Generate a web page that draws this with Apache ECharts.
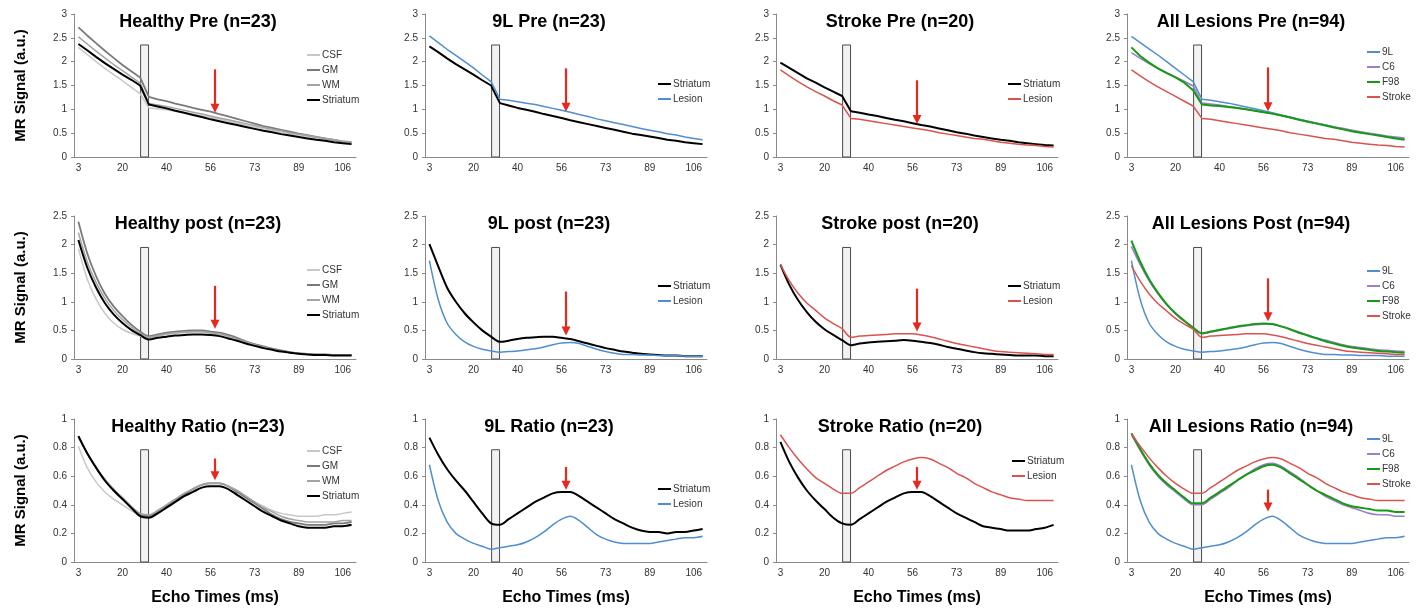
<!DOCTYPE html>
<html><head><meta charset="utf-8">
<script src="https://cdn.jsdelivr.net/npm/echarts@6/dist/echarts.min.js"></script>
<style>html,body{margin:0;padding:0;background:#fff}#c{width:1421px;height:608px}</style>
</head><body><div id="c"></div>
<script>
// ---------- data ----------
const ECHO_TIMES = ['3','6','10','13','16','20','23','26','33','36','40','43','46','50','53','56','59','63','66','69','73','76','79','83','86','89','92','96','99','102','106','109'];

// Row 1: pre-contrast
const HP_CSF = [2.30,2.15,2.00,1.86,1.73,1.60,1.46,1.33,1.03,1.01,0.99,0.96,0.93,0.90,0.86,0.83,0.79,0.75,0.71,0.67,0.63,0.59,0.56,0.52,0.49,0.46,0.43,0.40,0.37,0.35,0.32,0.30];
const HP_GM  = [2.72,2.55,2.39,2.23,2.08,1.93,1.80,1.67,1.26,1.21,1.17,1.12,1.08,1.03,0.99,0.95,0.90,0.85,0.80,0.75,0.70,0.65,0.61,0.57,0.53,0.49,0.46,0.42,0.39,0.36,0.33,0.31];
const HP_WM  = [2.52,2.37,2.22,2.08,1.94,1.81,1.68,1.55,1.12,1.09,1.06,1.02,0.98,0.94,0.90,0.86,0.82,0.78,0.74,0.70,0.66,0.62,0.58,0.55,0.51,0.48,0.45,0.42,0.39,0.36,0.33,0.31];
const HP_STR = [2.37,2.24,2.10,1.97,1.85,1.73,1.62,1.50,1.10,1.06,1.02,0.97,0.93,0.88,0.84,0.79,0.75,0.71,0.67,0.63,0.59,0.55,0.52,0.48,0.45,0.42,0.39,0.36,0.34,0.31,0.29,0.27];
const L9P_STR = [2.32,2.20,2.07,1.95,1.84,1.73,1.61,1.50,1.13,1.08,1.03,0.99,0.95,0.90,0.86,0.82,0.77,0.73,0.69,0.65,0.61,0.57,0.53,0.49,0.46,0.43,0.40,0.36,0.34,0.31,0.29,0.27];
const L9P_LES = [2.54,2.40,2.26,2.13,2.00,1.87,1.72,1.58,1.21,1.19,1.16,1.13,1.10,1.06,1.02,0.98,0.94,0.89,0.85,0.80,0.76,0.72,0.68,0.64,0.60,0.56,0.53,0.49,0.46,0.42,0.39,0.36];
const SP_STR = [1.98,1.87,1.76,1.65,1.56,1.46,1.37,1.28,0.96,0.93,0.89,0.86,0.82,0.78,0.75,0.71,0.67,0.64,0.60,0.56,0.52,0.49,0.45,0.42,0.39,0.36,0.34,0.31,0.29,0.27,0.25,0.24];
const SP_LES = [1.83,1.70,1.58,1.47,1.37,1.28,1.18,1.09,0.81,0.79,0.76,0.73,0.70,0.67,0.64,0.61,0.58,0.55,0.51,0.48,0.45,0.42,0.39,0.37,0.34,0.31,0.29,0.27,0.25,0.24,0.22,0.21];
const AP_9L  = [2.53,2.40,2.27,2.14,2.00,1.86,1.72,1.58,1.21,1.19,1.16,1.13,1.09,1.05,1.01,0.97,0.93,0.88,0.84,0.79,0.75,0.71,0.67,0.63,0.59,0.56,0.52,0.49,0.46,0.43,0.40,0.38];
const AP_C6  = [2.19,2.07,1.96,1.86,1.77,1.68,1.59,1.49,1.13,1.11,1.09,1.06,1.03,1.00,0.97,0.94,0.91,0.87,0.83,0.79,0.75,0.71,0.67,0.63,0.60,0.56,0.53,0.50,0.47,0.44,0.42,0.40];
const AP_F98 = [2.30,2.12,1.98,1.86,1.76,1.67,1.56,1.40,1.10,1.08,1.07,1.05,1.03,1.00,0.97,0.94,0.91,0.87,0.83,0.78,0.74,0.70,0.66,0.62,0.58,0.54,0.51,0.48,0.45,0.42,0.39,0.36];
const AP_STK = [1.83,1.70,1.58,1.47,1.37,1.27,1.17,1.07,0.81,0.79,0.76,0.73,0.70,0.67,0.64,0.61,0.58,0.55,0.51,0.48,0.45,0.42,0.39,0.37,0.34,0.31,0.29,0.27,0.25,0.24,0.22,0.21];

// Row 2: post-contrast
const HO_CSF = [1.93,1.40,1.05,0.80,0.63,0.52,0.45,0.40,0.37,0.40,0.43,0.45,0.46,0.47,0.47,0.45,0.43,0.39,0.34,0.29,0.25,0.21,0.17,0.14,0.12,0.10,0.09,0.08,0.08,0.07,0.07,0.07];
const HO_GM  = [2.40,1.85,1.45,1.14,0.92,0.75,0.60,0.48,0.40,0.43,0.46,0.48,0.49,0.50,0.50,0.48,0.46,0.42,0.37,0.31,0.26,0.22,0.18,0.15,0.12,0.10,0.09,0.08,0.08,0.07,0.07,0.07];
const HO_WM  = [2.21,1.70,1.34,1.06,0.85,0.69,0.56,0.45,0.38,0.41,0.44,0.46,0.47,0.48,0.48,0.46,0.44,0.40,0.35,0.30,0.25,0.21,0.17,0.14,0.12,0.10,0.09,0.08,0.07,0.07,0.07,0.07];
const HO_STR = [2.08,1.60,1.25,0.98,0.78,0.63,0.51,0.42,0.34,0.37,0.39,0.41,0.42,0.43,0.43,0.42,0.40,0.36,0.32,0.27,0.23,0.19,0.16,0.13,0.11,0.09,0.08,0.07,0.07,0.06,0.06,0.06];
const L9O_STR = [2.01,1.62,1.25,1.00,0.80,0.64,0.50,0.39,0.30,0.32,0.35,0.37,0.38,0.39,0.39,0.37,0.35,0.31,0.27,0.23,0.19,0.16,0.13,0.11,0.09,0.08,0.07,0.06,0.06,0.05,0.05,0.05];
const L9O_LES = [1.72,1.04,0.63,0.43,0.30,0.22,0.17,0.14,0.12,0.13,0.14,0.16,0.18,0.21,0.25,0.28,0.29,0.27,0.22,0.17,0.13,0.10,0.08,0.08,0.07,0.07,0.06,0.06,0.06,0.05,0.05,0.05];
const SO_STR = [1.65,1.30,1.03,0.82,0.65,0.52,0.42,0.33,0.24,0.27,0.29,0.30,0.31,0.32,0.33,0.32,0.30,0.28,0.25,0.21,0.18,0.15,0.12,0.10,0.09,0.08,0.07,0.06,0.06,0.06,0.05,0.05];
const SO_LES = [1.65,1.37,1.15,0.98,0.85,0.72,0.62,0.53,0.38,0.40,0.41,0.42,0.43,0.44,0.44,0.44,0.42,0.39,0.35,0.31,0.27,0.24,0.21,0.18,0.15,0.13,0.12,0.11,0.10,0.09,0.08,0.08];
const AO_9L  = [1.72,1.04,0.63,0.43,0.30,0.22,0.17,0.14,0.12,0.13,0.14,0.16,0.18,0.21,0.25,0.28,0.29,0.27,0.22,0.17,0.13,0.10,0.08,0.08,0.07,0.07,0.06,0.06,0.06,0.05,0.05,0.05];
const AO_C6  = [1.97,1.65,1.37,1.14,0.95,0.79,0.66,0.54,0.44,0.47,0.50,0.53,0.56,0.58,0.60,0.61,0.61,0.57,0.52,0.47,0.42,0.37,0.33,0.29,0.25,0.22,0.20,0.18,0.16,0.15,0.14,0.13];
const AO_F98 = [2.07,1.70,1.40,1.16,0.96,0.80,0.67,0.55,0.45,0.48,0.51,0.54,0.57,0.59,0.61,0.62,0.61,0.57,0.52,0.46,0.41,0.36,0.31,0.27,0.23,0.20,0.18,0.16,0.14,0.13,0.12,0.11];
const AO_STK = [1.63,1.36,1.14,0.97,0.84,0.71,0.61,0.52,0.38,0.40,0.41,0.42,0.43,0.44,0.44,0.44,0.42,0.39,0.35,0.31,0.27,0.24,0.21,0.18,0.15,0.13,0.12,0.11,0.10,0.09,0.08,0.08];

// Row 3: ratio
const HR_CSF = [0.81,0.66,0.56,0.49,0.44,0.40,0.36,0.33,0.33,0.36,0.40,0.44,0.48,0.51,0.54,0.55,0.55,0.53,0.50,0.46,0.42,0.39,0.36,0.34,0.33,0.32,0.32,0.32,0.33,0.33,0.34,0.35];
const HR_GM  = [0.88,0.76,0.66,0.57,0.50,0.44,0.38,0.33,0.32,0.35,0.39,0.43,0.47,0.51,0.54,0.55,0.55,0.53,0.49,0.45,0.41,0.37,0.33,0.30,0.28,0.27,0.26,0.26,0.26,0.27,0.27,0.28];
const HR_WM  = [0.87,0.76,0.66,0.58,0.51,0.45,0.39,0.34,0.33,0.36,0.40,0.44,0.48,0.51,0.54,0.55,0.55,0.53,0.50,0.46,0.42,0.38,0.35,0.32,0.30,0.29,0.28,0.28,0.28,0.28,0.29,0.29];
const HR_STR = [0.88,0.76,0.66,0.57,0.50,0.44,0.38,0.32,0.31,0.34,0.38,0.42,0.46,0.49,0.52,0.53,0.53,0.51,0.47,0.43,0.39,0.35,0.32,0.29,0.27,0.25,0.24,0.24,0.24,0.25,0.25,0.26];
const L9R_STR = [0.87,0.75,0.65,0.57,0.50,0.42,0.34,0.27,0.26,0.30,0.34,0.38,0.42,0.45,0.48,0.49,0.49,0.46,0.42,0.38,0.34,0.30,0.27,0.24,0.22,0.21,0.21,0.20,0.21,0.21,0.22,0.23];
const L9R_LES = [0.68,0.43,0.28,0.20,0.16,0.13,0.11,0.09,0.10,0.11,0.12,0.14,0.17,0.21,0.26,0.30,0.32,0.29,0.24,0.19,0.16,0.14,0.13,0.13,0.13,0.13,0.14,0.15,0.16,0.17,0.17,0.18];
const SR_STR = [0.84,0.70,0.59,0.50,0.43,0.37,0.31,0.27,0.26,0.30,0.34,0.38,0.42,0.45,0.48,0.49,0.49,0.46,0.42,0.38,0.34,0.31,0.28,0.25,0.24,0.23,0.22,0.22,0.22,0.23,0.24,0.26];
const SR_LES = [0.89,0.80,0.72,0.65,0.59,0.55,0.51,0.48,0.48,0.52,0.56,0.60,0.64,0.67,0.70,0.72,0.73,0.72,0.69,0.66,0.62,0.59,0.55,0.52,0.49,0.47,0.45,0.44,0.43,0.43,0.43,0.43];
const AR_9L  = [0.68,0.43,0.28,0.20,0.16,0.13,0.11,0.09,0.10,0.11,0.12,0.14,0.17,0.21,0.26,0.30,0.32,0.29,0.24,0.19,0.16,0.14,0.13,0.13,0.13,0.13,0.14,0.15,0.16,0.17,0.17,0.18];
const AR_C6  = [0.89,0.78,0.68,0.60,0.54,0.49,0.44,0.40,0.40,0.44,0.48,0.52,0.57,0.61,0.65,0.68,0.69,0.67,0.63,0.59,0.54,0.50,0.46,0.43,0.40,0.38,0.36,0.34,0.33,0.33,0.32,0.32];
const AR_F98 = [0.90,0.79,0.69,0.61,0.55,0.50,0.45,0.41,0.41,0.45,0.49,0.53,0.57,0.61,0.64,0.67,0.68,0.66,0.62,0.58,0.54,0.50,0.47,0.44,0.41,0.39,0.38,0.37,0.36,0.36,0.35,0.35];
const AR_STK = [0.90,0.81,0.73,0.66,0.60,0.55,0.51,0.48,0.48,0.52,0.56,0.60,0.64,0.67,0.70,0.72,0.73,0.72,0.69,0.66,0.62,0.59,0.55,0.52,0.49,0.47,0.45,0.44,0.43,0.43,0.43,0.43];

const TITLES = ['Healthy Pre (n=23)','9L Pre (n=23)','Stroke Pre (n=20)','All Lesions Pre (n=94)',
                'Healthy post (n=23)','9L post (n=23)','Stroke post (n=20)','All Lesions Post (n=94)',
                'Healthy Ratio (n=23)','9L Ratio (n=23)','Stroke Ratio (n=20)','All Lesions Ratio (n=94)'];
// red arrow: [top value, tip value], at echo index 15.5
const ARROW_TOP = [1.84,1.86,1.61,1.88, 1.28,1.18,1.23,1.41, 0.724,0.665,0.665,0.506];
const ARROW_TIP = [0.93,0.95,0.69,0.96, 0.53,0.41,0.48,0.66, 0.571,0.506,0.506,0.354];
const BAR_TOP = [2.35,1.95,0.785];
const Y_MAX = [3,2.5,1];
const Y_STEP = [0.5,0.5,0.2];

// ---------- styles ----------
const STY = {
  CSF:{c:'#c8c8c8',w:1.5}, GM:{c:'#7a7a7a',w:1.8}, WM:{c:'#a3a3a3',w:1.5}, STR:{c:'#000000',w:2},
  L9:{c:'#4f8fd0',w:1.5}, LS:{c:'#d9534f',w:1.5}, C6:{c:'#9b7fc8',w:1.6}, F98:{c:'#169a16',w:2}, STK:{c:'#d9534f',w:1.5}
};
const PANEL_SERIES = [
  [['CSF','CSF',HP_CSF],['GM','GM',HP_GM],['WM','WM',HP_WM],['Striatum','STR',HP_STR]],
  [['Striatum','STR',L9P_STR],['Lesion','L9',L9P_LES]],
  [['Striatum','STR',SP_STR],['Lesion','LS',SP_LES]],
  [['9L','L9',AP_9L],['C6','C6',AP_C6],['F98','F98',AP_F98],['Stroke','STK',AP_STK]],
  [['CSF','CSF',HO_CSF],['GM','GM',HO_GM],['WM','WM',HO_WM],['Striatum','STR',HO_STR]],
  [['Striatum','STR',L9O_STR],['Lesion','L9',L9O_LES]],
  [['Striatum','STR',SO_STR],['Lesion','LS',SO_LES]],
  [['9L','L9',AO_9L],['C6','C6',AO_C6],['F98','F98',AO_F98],['Stroke','STK',AO_STK]],
  [['CSF','CSF',HR_CSF],['GM','GM',HR_GM],['WM','WM',HR_WM],['Striatum','STR',HR_STR]],
  [['Striatum','STR',L9R_STR],['Lesion','L9',L9R_LES]],
  [['Striatum','STR',SR_STR],['Lesion','LS',SR_LES]],
  [['9L','L9',AR_9L],['C6','C6',AR_C6],['F98','F98',AR_F98],['Stroke','STK',AR_STK]]
];

// ---------- layout ----------
const GRID_LEFT = [74,425,776,1127];
const GRID_W = 282;
const GRID_TOP = [14,216,419];
const GRID_H = 143;
const TITLE_TOP = [13,215,418];
const LEGEND_POS = [[307,49],[658,78],[1008,78],[1367,46],[307,264],[658,280],[1008,280],[1367,265],[307,445],[658,483],[1012,455],[1367,433]];
const FONT = '"Liberation Sans", Arial, sans-serif';
const AXIS_COLOR = '#8a8a8a';
const RED = '#e8281e';

const grids=[], xAxes=[], yAxes=[], titles=[], legends=[], series=[];
for (let g=0; g<12; g++){
  const row = Math.floor(g/4), col = g%4;
  grids.push({left:GRID_LEFT[col], top:GRID_TOP[row], width:GRID_W, height:GRID_H});
  xAxes.push({
    gridIndex:g, type:'category', data:ECHO_TIMES, boundaryGap:true,
    axisLine:{lineStyle:{color:AXIS_COLOR,width:1}},
    axisTick:{interval:0,length:3,lineStyle:{color:AXIS_COLOR}},
    axisLabel:{interval:4,fontSize:10,color:'#333',margin:6,fontFamily:FONT},
    name: row===2 ? 'Echo Times (ms)' : '', nameLocation:'middle', nameGap:28,
    nameTextStyle:{fontSize:16,fontWeight:'bold',color:'#000',fontFamily:FONT}
  });
  yAxes.push({
    gridIndex:g, type:'value', min:0, max:Y_MAX[row], interval:Y_STEP[row],
    splitLine:{show:false},
    axisLine:{show:true,lineStyle:{color:AXIS_COLOR,width:1}},
    axisTick:{show:true,length:3,lineStyle:{color:AXIS_COLOR}},
    axisLabel:{fontSize:10,color:'#333',margin:7,fontFamily:FONT},
    name: col===0 ? 'MR Signal (a.u.)' : '', nameLocation:'middle', nameGap:46, nameRotate:90,
    nameTextStyle:{fontSize:15,fontWeight:'bold',color:'#000',fontFamily:FONT}
  });
  titles.push({
    text:TITLES[g], left:GRID_LEFT[col]+GRID_W/2-17, top:TITLE_TOP[row], textAlign:'center',
    textStyle:{fontSize:18,fontWeight:'bold',color:'#000',fontFamily:FONT}, padding:0
  });
  const names=[];
  PANEL_SERIES[g].forEach(([label,key,vals])=>{
    const nm = g+'|'+label;
    names.push(nm);
    series.push({
      name:nm, type:'line', xAxisIndex:g, yAxisIndex:g, data:vals, symbol:'none',
      smooth: row===0 ? false : 0.3, z:2,
      lineStyle:{color:STY[key].c,width:STY[key].w}, itemStyle:{color:STY[key].c},
      silent:true, animation:false
    });
  });
  legends.push({
    data:names, left:LEGEND_POS[g][0], top:LEGEND_POS[g][1], orient:'vertical',
    icon:'rect', itemWidth:13, itemHeight:2, itemGap:3, padding:0, selectedMode:false,
    formatter:(n)=>n.split('|')[1],
    textStyle:{fontSize:10,color:'#333',fontFamily:FONT,lineHeight:12,padding:[0,0,0,-3]}
  });
  // grey echo-train separator bar
  series.push({
    type:'custom', xAxisIndex:g, yAxisIndex:g, z:1, silent:true, animation:false, clip:false,
    data:[[7, BAR_TOP[row]]],
    renderItem:(params, api)=>{
      const band = api.size([1,0])[0];
      const p0 = api.coord([api.value(0), 0]);
      const p1 = api.coord([api.value(0), api.value(1)]);
      return {type:'rect', shape:{x:p0[0]+0.06*band, y:p1[1], width:0.9*band, height:p0[1]-p1[1]},
              style:{fill:'#f2f2f2', stroke:'#4a4a4a', lineWidth:1}};
    }
  });
  // red arrow
  series.push({
    type:'custom', xAxisIndex:g, yAxisIndex:g, z:5, silent:true, animation:false, clip:false,
    data:[[15, ARROW_TOP[g], ARROW_TIP[g]]],
    renderItem:(params, api)=>{
      const band = api.size([1,0])[0];
      const pt = api.coord([api.value(0), api.value(1)]);
      const pb = api.coord([api.value(0), api.value(2)]);
      const x = pt[0] + 0.5*band;
      const hh = 9, hw = 4.5;
      return {type:'group', children:[
        {type:'line', shape:{x1:x, y1:pt[1], x2:x, y2:pb[1]-hh+2}, style:{stroke:RED, lineWidth:2.2}},
        {type:'polygon', shape:{points:[[x-hw,pb[1]-hh],[x+hw,pb[1]-hh],[x,pb[1]]]}, style:{fill:RED}}
      ]};
    }
  });
}

const chart = echarts.init(document.getElementById('c'), null, {renderer:'canvas'});
chart.setOption({
  animation:false, backgroundColor:'#fff',
  title:titles, grid:grids, xAxis:xAxes, yAxis:yAxes, legend:legends, series:series
});
</script>
</body></html>
